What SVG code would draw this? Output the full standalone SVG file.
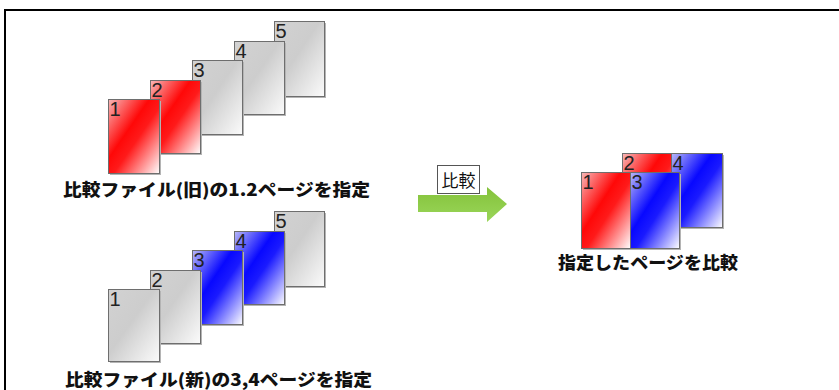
<svg xmlns="http://www.w3.org/2000/svg" width="839" height="390" viewBox="0 0 839 390">
  <defs>
    <linearGradient id="gRed" x1="0" y1="0" x2="1" y2="1">
      <stop offset="0" stop-color="#f8b8b8"/>
      <stop offset="0.4" stop-color="#ff0808"/>
      <stop offset="0.55" stop-color="#ff1a1a"/>
      <stop offset="1" stop-color="#ffffff"/>
    </linearGradient>
    <linearGradient id="gBlue" x1="0" y1="0" x2="1" y2="1">
      <stop offset="0" stop-color="#b8b8f8"/>
      <stop offset="0.4" stop-color="#0808ff"/>
      <stop offset="0.55" stop-color="#1a1aff"/>
      <stop offset="1" stop-color="#ffffff"/>
    </linearGradient>
    <linearGradient id="gGray" x1="0" y1="0" x2="1" y2="1">
      <stop offset="0" stop-color="#d2d2d2"/>
      <stop offset="0.45" stop-color="#cdcdcd"/>
      <stop offset="1" stop-color="#fbfbfb"/>
    </linearGradient>
    <linearGradient id="gArrow" x1="0" y1="0" x2="0" y2="1">
      <stop offset="0" stop-color="#84c23a"/>
      <stop offset="1" stop-color="#9ad65a"/>
    </linearGradient>
  </defs>
  <style>
    .frame { fill: none; stroke: #000; stroke-width: 2; }
    .shadow { fill: #b4b4b4; }
    .page { stroke: #6e6e6e; stroke-width: 1; }
    .red { fill: url(#gRed); }
    .blue { fill: url(#gBlue); }
    .gray { fill: url(#gGray); }
    .num { font-family: "Liberation Sans", "DejaVu Sans", sans-serif; font-size: 20px; fill: #222; }
    .label { font-family: "Noto Sans CJK JP", "Noto Sans", sans-serif; font-size: 17px; font-weight: 900; fill: #111; }
    .tag { font-family: "Noto Sans CJK JP", "Noto Sans", sans-serif; font-size: 17px; fill: #111; }
  </style>

  <rect width="839" height="390" fill="#fff"/>
  <path class="frame" d="M5,390 V10 H839"/>

  <!-- old file: five pages, 1 and 2 selected -->
  <g id="old-file">
    <g id="old-p5"><rect class="shadow" x="276" y="23" width="50" height="75"/><rect class="page gray" x="274.5" y="21.5" width="50" height="75"/><text class="num" x="275.5" y="38">5</text></g>
    <g id="old-p4"><rect class="shadow" x="236" y="43" width="50" height="73"/><rect class="page gray" x="234.5" y="41.5" width="50" height="73"/><text class="num" x="235.5" y="58">4</text></g>
    <g id="old-p3"><rect class="shadow" x="194" y="62" width="50" height="74"/><rect class="page gray" x="192.5" y="60.5" width="50" height="74"/><text class="num" x="193.5" y="77">3</text></g>
    <g id="old-p2"><rect class="shadow" x="152" y="82" width="50" height="73"/><rect class="page red" x="150.5" y="80.5" width="50" height="73"/><text class="num" x="151.5" y="97">2</text></g>
    <g id="old-p1"><rect class="shadow" x="110" y="101" width="51" height="74"/><rect class="page red" x="108.5" y="99.5" width="51" height="74"/><text class="num" x="109.5" y="116">1</text></g>
    <text class="label" x="63" y="196" textLength="307" lengthAdjust="spacingAndGlyphs">比較ファイル(旧)の1.2ページを指定</text>
  </g>

  <!-- new file: five pages, 3 and 4 selected -->
  <g id="new-file">
    <g id="new-p5"><rect class="shadow" x="276" y="213" width="50" height="75"/><rect class="page gray" x="274.5" y="211.5" width="50" height="75"/><text class="num" x="275.5" y="228">5</text></g>
    <g id="new-p4"><rect class="shadow" x="236" y="233" width="50" height="73"/><rect class="page blue" x="234.5" y="231.5" width="50" height="73"/><text class="num" x="235.5" y="248">4</text></g>
    <g id="new-p3"><rect class="shadow" x="194" y="252" width="50" height="74"/><rect class="page blue" x="192.5" y="250.5" width="50" height="74"/><text class="num" x="193.5" y="267">3</text></g>
    <g id="new-p2"><rect class="shadow" x="152" y="272" width="50" height="73"/><rect class="page gray" x="150.5" y="270.5" width="50" height="73"/><text class="num" x="151.5" y="287">2</text></g>
    <g id="new-p1"><rect class="shadow" x="110" y="291" width="51" height="72"/><rect class="page gray" x="108.5" y="289.5" width="51" height="72"/><text class="num" x="109.5" y="306">1</text></g>
    <text class="label" x="65" y="386" textLength="307" lengthAdjust="spacingAndGlyphs">比較ファイル(新)の3,4ページを指定</text>
  </g>

  <!-- compare step -->
  <g id="connectors">
    <path id="compare-arrow" fill="url(#gArrow)" d="M418,195 H487 V187 L507,204 L487,222 V212 H418 Z"/>
    <g id="compare-tag">
      <rect x="437.5" y="165.5" width="42" height="28" fill="#fff" stroke="#555" stroke-width="1"/>
      <text class="tag" x="458.5" y="187" text-anchor="middle">比較</text>
    </g>
  </g>

  <!-- compared pages side by side -->
  <g id="result">
    <g id="res-p2"><rect class="shadow" x="624" y="155" width="50" height="74"/><rect class="page red" x="622.5" y="153.5" width="50" height="74"/><text class="num" x="623.5" y="170">2</text></g>
    <g id="res-p4"><rect class="shadow" x="673" y="155" width="51" height="74"/><rect class="page blue" x="671.5" y="153.5" width="51" height="74"/><text class="num" x="672.5" y="170">4</text></g>
    <g id="res-p1"><rect class="shadow" x="583" y="174" width="49" height="76"/><rect class="page red" x="581.5" y="172.5" width="49" height="76"/><text class="num" x="582.5" y="189">1</text></g>
    <g id="res-p3"><rect class="shadow" x="632" y="174" width="49" height="76"/><rect class="page blue" x="630.5" y="172.5" width="49" height="76"/><text class="num" x="631.5" y="189">3</text></g>
    <text class="label" x="558" y="269" textLength="180" lengthAdjust="spacingAndGlyphs">指定したページを比較</text>
  </g>
</svg>
